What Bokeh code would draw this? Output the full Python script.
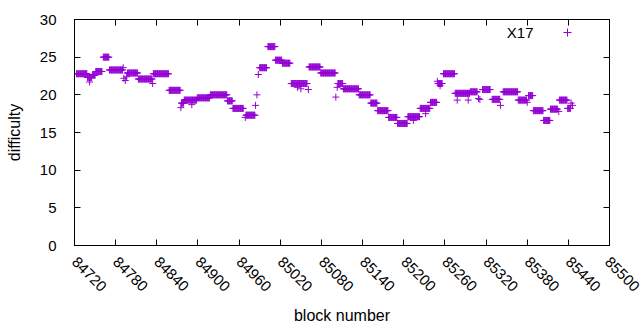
import math
from bokeh.plotting import figure
from bokeh.models import (LinearAxis, SingleIntervalTicker, Range1d, Legend,
                          LegendItem, Label, ColumnDataSource)
from bokeh.embed import file_html
from bokeh.resources import INLINE

# Runs of blocks with a constant X17 difficulty
run_start = [84723, 84739, 84746, 84751, 84762, 84771, 84797, 84813, 84835, 84858,
             84876, 84880, 84899, 84918, 84943, 84951, 84970, 84990, 85002, 85013,
             85023, 85036, 85062, 85079, 85104, 85112, 85135, 85152, 85162, 85178,
             85191, 85206, 85224, 85239, 85250, 85258, 85275, 85297, 85315, 85329,
             85345, 85367, 85382, 85389, 85404, 85414, 85427, 85439]
run_end = [84738, 84745, 84750, 84760, 84770, 84790, 84812, 84833, 84857, 84874,
           84879, 84898, 84917, 84942, 84950, 84966, 84983, 85000, 85012, 85022,
           85034, 85059, 85078, 85100, 85111, 85134, 85151, 85161, 85177, 85190,
           85205, 85223, 85238, 85248, 85256, 85274, 85296, 85307, 85326, 85340,
           85366, 85379, 85388, 85403, 85413, 85424, 85438, 85443]
run_diff = [22.8, 22.3, 22.6, 23.1, 25.0, 23.3, 22.9, 22.1, 22.8, 20.6,
            18.9, 19.3, 19.6, 20.0, 19.2, 18.2, 17.3, 23.6, 26.4, 24.6,
            24.2, 21.5, 23.7, 22.9, 21.5, 20.8, 20.0, 18.9, 17.9, 17.0,
            16.2, 17.1, 18.2, 19.0, 21.5, 22.8, 20.2, 20.4, 20.7, 19.4,
            20.4, 19.3, 19.9, 17.9, 16.6, 18.1, 19.3, 18.2]

# Isolated blocks
single_block = [84742, 84791, 84792, 84794, 84796, 84834, 84875, 84891, 84969, 84984,
                84986, 84988, 85045, 85050, 85061, 85101, 85103, 85214, 85232, 85249,
                85253, 85278, 85294, 85309, 85311, 85341, 85380, 85426, 85444, 85446]
single_diff = [21.7, 23.6, 22.2, 21.9, 22.4, 21.5, 18.3, 18.7, 17.0, 18.6,
               20.0, 22.7, 21.0, 20.8, 20.7, 19.7, 21.0, 16.6, 17.5, 21.8,
               21.2, 19.3, 19.3, 19.5, 19.4, 18.6, 19.0, 17.8, 18.9, 18.6]

series_name = "X17"
x_title = "block number"
y_title = "difficulty"

blocks, diffs = [], []
for s, e, d in zip(run_start, run_end, run_diff):
    for b in range(s, e + 1):
        blocks.append(b)
        diffs.append(d)
blocks += single_block
diffs += single_diff

src = ColumnDataSource(data=dict(block=blocks, diff=diffs))

COLOR = "#9400D3"
FONT = "Liberation Sans"

p = figure(width=640, height=330, output_backend="svg", toolbar_location=None,
           x_range=Range1d(84720, 85500), y_range=Range1d(0, 30),
           min_border_left=74, min_border_right=31, min_border_top=19,
           min_border_bottom=85)
p.background_fill_color = "white"
p.border_fill_color = "white"
p.outline_line_color = "black"
p.outline_line_width = 1
p.grid.visible = False

r = p.scatter("block", "diff", source=src, marker="cross", size=7,
              line_color=COLOR, line_width=1)

p.xaxis.ticker = SingleIntervalTicker(interval=60)
p.yaxis.ticker = SingleIntervalTicker(interval=5)

for ax in (p.xaxis[0], p.yaxis[0]):
    ax.major_tick_in = 6
    ax.major_tick_out = 0
    ax.minor_tick_line_color = None
    ax.axis_line_color = "black"
    ax.major_label_text_font = FONT
    ax.major_label_text_font_size = "15px"
    ax.major_label_text_color = "black"
    ax.axis_label_text_font = FONT
    ax.axis_label_text_font_size = "16px"
    ax.axis_label_text_font_style = "normal"
    ax.axis_label_text_color = "black"

p.xaxis.axis_label = x_title
p.yaxis.axis_label = y_title
p.xaxis.major_label_orientation = -math.pi / 4
p.xaxis.major_label_standoff = 10
p.xaxis.axis_label_standoff = 8
p.yaxis.major_label_standoff = 14
p.yaxis.axis_label_standoff = 14

# mirror ticks on top and right
top = LinearAxis(ticker=SingleIntervalTicker(interval=60))
right = LinearAxis(ticker=SingleIntervalTicker(interval=5))
for ax in (top, right):
    ax.major_tick_in = 6
    ax.major_tick_out = 0
    ax.minor_tick_line_color = None
    ax.axis_line_color = "black"
    ax.major_label_text_font_size = "0px"
    ax.major_label_standoff = 0
p.add_layout(top, "above")
p.add_layout(right, "right")

# key: text then sample, like gnuplot
legend = Legend(items=[LegendItem(label=" ", renderers=[r])], location=(483, 203),
                padding=0, margin=0, spacing=0, label_standoff=0, label_width=0,
                glyph_width=20, glyph_height=20, border_line_color=None,
                background_fill_alpha=0, label_text_font_size="1px")
p.add_layout(legend, "center")
p.add_layout(Label(x=459, y=213, x_units="screen", y_units="screen", text=series_name,
                   text_align="right", text_baseline="middle", text_font=FONT,
                   text_font_size="15px", text_color="black"))

open("out.html", "w").write(file_html(p, INLINE))
